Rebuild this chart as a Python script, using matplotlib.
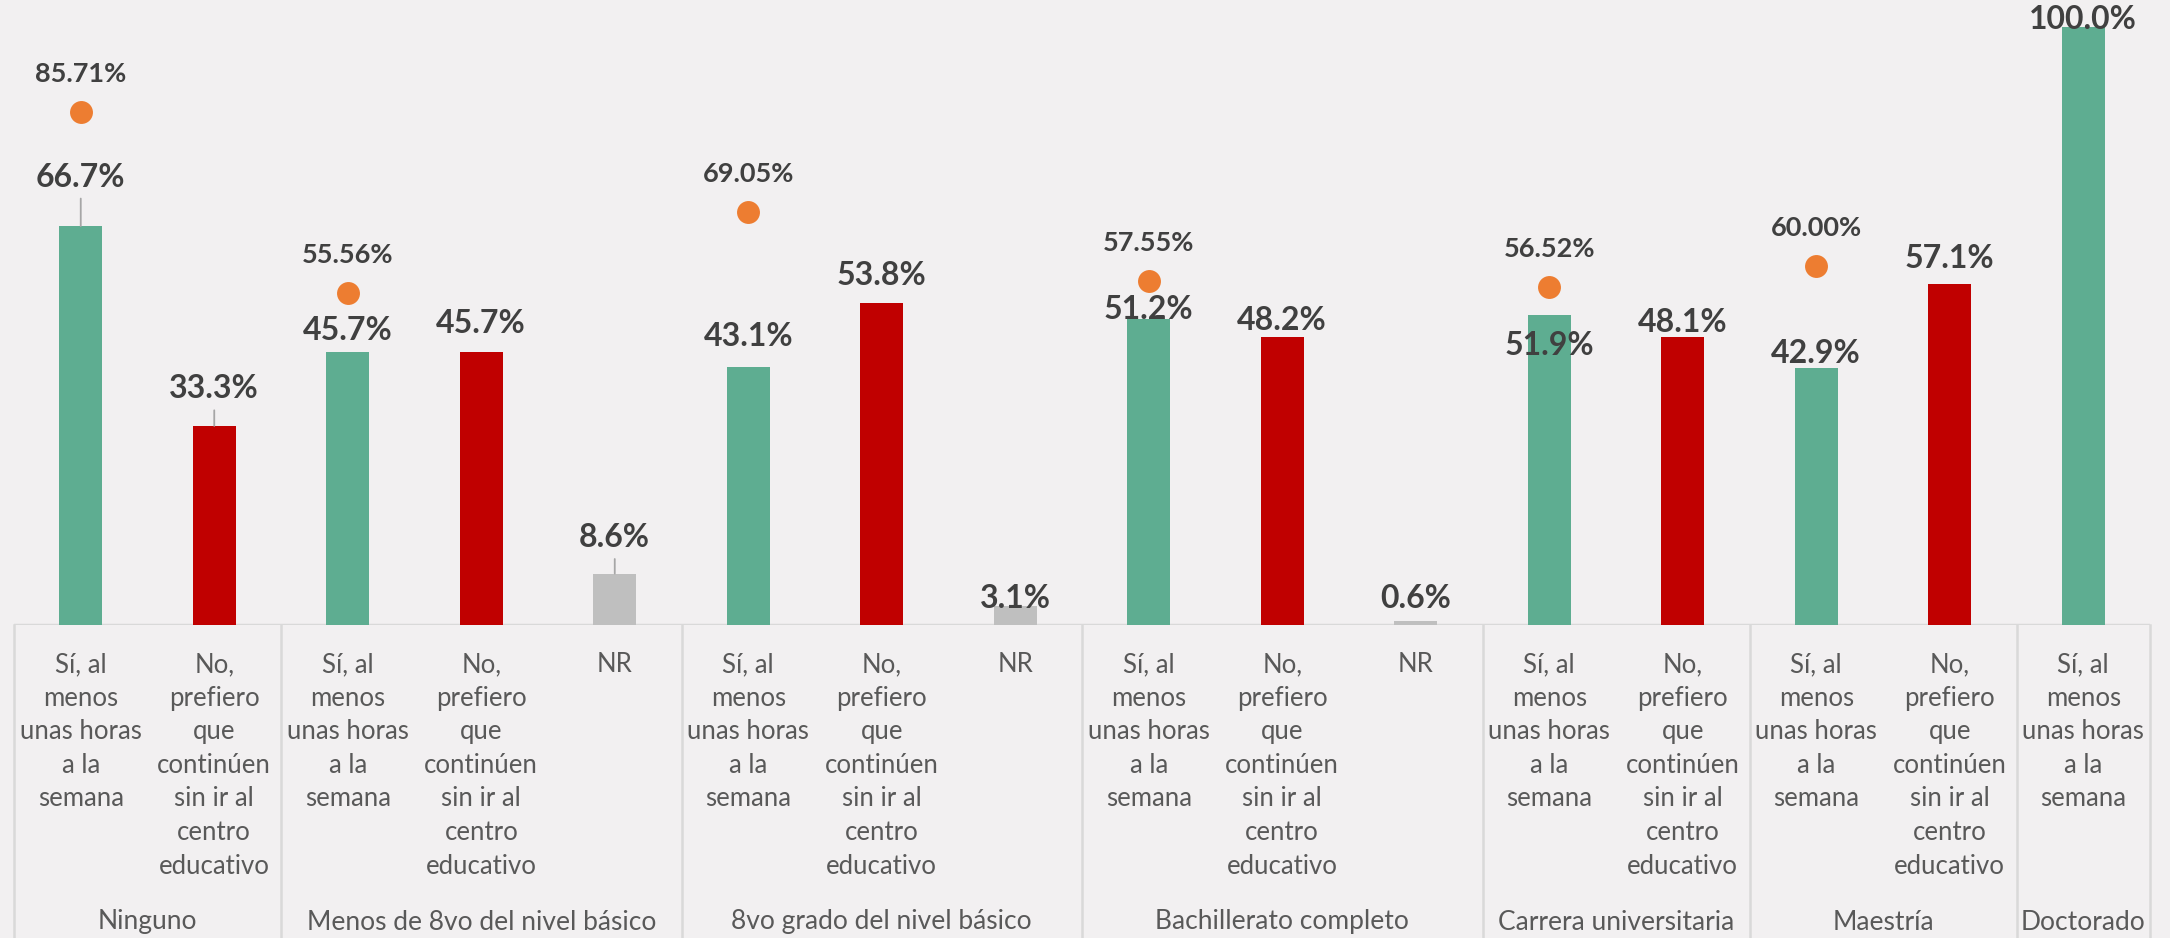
import matplotlib.pyplot as plt
import numpy as np

plt.rcParams['font.family'] = ['Lato', 'DejaVu Sans']

# Data
groups = ["Ninguno", "Menos de 8vo del nivel básico", "8vo grado del nivel básico",
          "Bachillerato completo", "Carrera universitaria", "Maestría", "Doctorado"]
group_sizes = [2, 3, 3, 3, 2, 2, 1]
answers = ["Sí", "No", "Sí", "No", "NR", "Sí", "No", "NR", "Sí", "No", "NR",
           "Sí", "No", "Sí", "No", "Sí"]
values = [66.7, 33.3, 45.7, 45.7, 8.6, 43.1, 53.8, 3.1, 51.2, 48.2, 0.6,
          51.9, 48.1, 42.9, 57.1, 100.0]
dot_slots = [0, 2, 5, 8, 11, 13]
dot_values = [85.71, 55.56, 69.05, 57.55, 56.52, 60.00]

answer_text = {
    "Sí": "Sí, al\nmenos\nunas horas\na la\nsemana",
    "No": "No,\nprefiero\nque\ncontinúen\nsin ir al\ncentro\neducativo",
    "NR": "NR",
}
colors = {"Sí": "#5EAD91", "No": "#C00000", "NR": "#BFBFBF"}

# label offsets above bar top (pixels), and which have leader lines
label_off_px = [49, 37, 21, 28, 36, 31, 28, 8, 9, 16, 23, -31, 15, 15, 25, 8]
leader = {0, 1, 4}

bg = "#F2F0F1"
txt = "#404040"
grid_c = "#D9D9D9"
px = 72 / 100  # points per pixel

fig = plt.figure(figsize=(21.7, 9.38), dpi=100, facecolor=bg)
ax = fig.add_axes([14 / 2170, 313 / 938, 2136 / 2170, 625 / 938])
ax.set_facecolor(bg)

x = np.arange(len(values))
ax.bar(x, values, width=0.32, color=[colors[a] for a in answers], zorder=2)
ax.plot(dot_slots, dot_values, 'o', color="#ED7D31", markersize=16.5,
        markeredgewidth=0, zorder=3)

ax.set_xlim(-0.5, len(values) - 0.5)
ax.set_ylim(0, 100 * 625 / 598)
for s in ax.spines.values():
    s.set_visible(False)
ax.set_xticks([])
ax.set_yticks([])
ax.axhline(0, color=grid_c, lw=2.5, zorder=1)

# bar labels
for i, v in enumerate(values):
    kw = {}
    if i in leader:
        kw['arrowprops'] = dict(arrowstyle='-', color='#A6A6A6', lw=1.3,
                                shrinkA=3, shrinkB=0)
    ax.annotate(f"{v:.1f}%", xy=(i, v), xytext=(0, label_off_px[i] * px),
                textcoords='offset points', ha='center', va='center',
                fontsize=23, fontweight='bold', color=txt, zorder=5, **kw)

# dot labels
for s, v in zip(dot_slots, dot_values):
    ax.annotate(f"{v:.2f}%", xy=(s, v), xytext=(0, 38 * px),
                textcoords='offset points', ha='center', va='center',
                fontsize=19.5, fontweight='bold', color=txt, zorder=5)

# category labels (level 1)
xt = ax.get_xaxis_transform()
for i, a in enumerate(answers):
    ax.annotate(answer_text[a], xy=(i, 0), xycoords=xt, xytext=(0, -27 * px),
                textcoords='offset points', ha='center', va='top',
                fontsize=18.5, color="#595959", linespacing=1.43)

# group labels (level 2) and separators
start = 0
bounds = [-0.5]
for g, n in zip(groups, group_sizes):
    center = start + (n - 1) / 2
    ax.annotate(g, xy=(center, 0), xycoords=xt, xytext=(0, -297 * px),
                textcoords='offset points', ha='center', va='center',
                fontsize=19, color="#595959")
    start += n
    bounds.append(start - 0.5)
for b in bounds:
    ax.plot([b, b], [0, -0.52], transform=xt, color=grid_c, lw=1.8,
            clip_on=False)

fig.savefig("out.png", dpi=100, facecolor=bg)
